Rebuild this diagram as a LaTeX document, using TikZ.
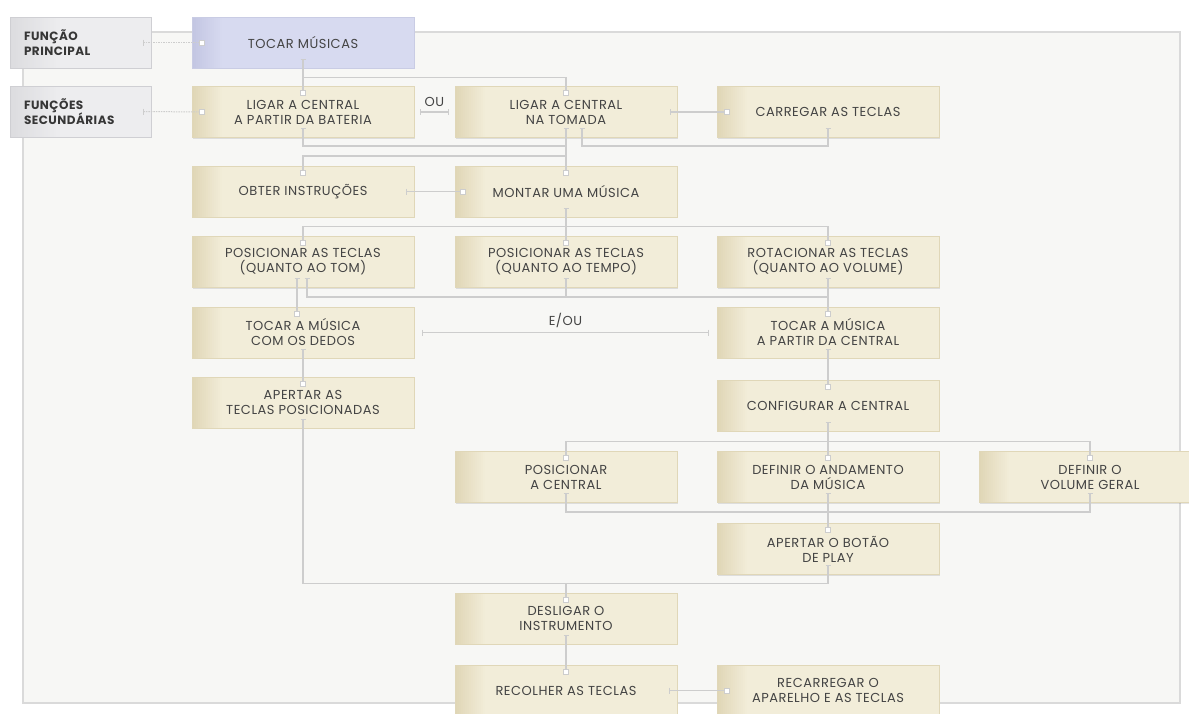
\documentclass[tikz,border=0pt]{standalone}
\usepackage{fontspec}
\setmainfont{Poppins}
\usetikzlibrary{calc,shadows}
\definecolor{cream}{HTML}{F2EDD9}
\definecolor{creamdk}{HTML}{E0D6B6}
\definecolor{creamln}{HTML}{E0D7B8}
\definecolor{lav}{HTML}{D7DAF0}
\definecolor{lavdk}{HTML}{C3C6E2}
\definecolor{lavln}{HTML}{C9CCE4}
\definecolor{gry}{HTML}{EDEDEF}
\definecolor{grydk}{HTML}{DCDCDF}
\definecolor{gryln}{HTML}{CFCFD3}
\definecolor{panel}{HTML}{F7F7F5}
\definecolor{panelln}{HTML}{DADADA}
\definecolor{lineg}{HTML}{CDCDCD}
\definecolor{txt}{HTML}{444444}
\definecolor{txtdk}{HTML}{363636}
\newcommand\OutTick[2][0pt]{\draw[tickln] ([xshift=#1-2.5pt,yshift=9pt]#2.south) -- ([xshift=#1+2.5pt,yshift=9pt]#2.south);}
\newcommand\InSq[2][0pt]{\node[port] at ([xshift=#1,yshift=-7pt]#2.north) {};}
\newcommand\VTick[1]{\draw[tickln] ([yshift=3pt]#1) -- ([yshift=-3pt]#1);}
\newcommand\LeftGrad[3]{\foreach \i in {0,...,#3}{\pgfmathtruncatemacro\pp{100-\i*100/(#3+1)}\fill[#1!\pp!#2] ([xshift=\i*2pt]path picture bounding box.south west) rectangle ([xshift=\i*2pt+2.4pt]path picture bounding box.north west);}}
\tikzset{
  x=1pt, y=-1pt,
  box/.style={minimum width=222pt, minimum height=51pt, inner sep=0pt, align=center,
    font=\fontsize{13}{15}\selectfont\addfontfeature{LetterSpace=4}, text=txt, draw=creamln, line width=0.8pt, fill=cream,
    drop shadow={shadow xshift=1pt, shadow yshift=-1.2pt, opacity=0.10, fill=black},
    path picture={\LeftGrad{creamdk}{cream}{14}}},
  mainbox/.style={box, fill=lav, draw=lavln, path picture={\LeftGrad{lavdk}{lav}{14}}},
  sidebox/.style={minimum height=51pt, inner xsep=14pt, inner ysep=0pt, text width=113pt, align=left,
    font=\bfseries\fontsize{12}{15.5}\selectfont\addfontfeature{LetterSpace=4}, text=txtdk, draw=gryln, line width=0.8pt, fill=gry,
    drop shadow={shadow xshift=1pt, shadow yshift=-1.2pt, opacity=0.10, fill=black},
    path picture={\LeftGrad{grydk}{gry}{24}}},
  conn/.style={draw=lineg, line width=1.2pt},
  dotconn/.style={draw=lineg, line width=1pt, dash pattern=on 1.5pt off 1pt},
  tickln/.style={draw=lineg, line width=1pt},
  port/.style={draw=lineg, fill=white, line width=0.8pt, minimum size=5pt, inner sep=0pt},
  lbl/.style={font=\fontsize{13}{15}\selectfont\addfontfeature{LetterSpace=4}, text=txt}
}
\begin{document}
\begin{tikzpicture}
\useasboundingbox (0,0) rectangle (1189,713);
\fill[white] (0,0) rectangle (1189,713);
\draw[fill=panel, draw=panelln, line width=1.2pt] (23,32) rectangle (1180,703);

% nodes
\node[sidebox] (fp) at (80.5,42.5) {FUNÇÃO\\PRINCIPAL};
\node[sidebox] (fs) at (80.5,111.5) {FUNÇÕES\\SECUNDÁRIAS};
\node[mainbox] (tocar) at (303,42.5) {TOCAR MÚSICAS};
\node[box] (bat) at (303,112) {LIGAR A CENTRAL\\A PARTIR DA BATERIA};
\node[box] (tom) at (566,112) {LIGAR A CENTRAL\\NA TOMADA};
\node[box] (carr) at (828,112) {CARREGAR AS TECLAS};
\node[box] (obt) at (303,191.5) {OBTER INSTRUÇÕES};
\node[box] (mont) at (566,191.5) {MONTAR UMA MÚSICA};
\node[box] (ptom) at (303,262) {POSICIONAR AS TECLAS\\(QUANTO AO TOM)};
\node[box] (ptempo) at (566,262) {POSICIONAR AS TECLAS\\(QUANTO AO TEMPO)};
\node[box] (pvol) at (828,262) {ROTACIONAR AS TECLAS\\(QUANTO AO VOLUME)};
\node[box] (dedos) at (303,332.5) {TOCAR A MÚSICA\\COM OS DEDOS};
\node[box] (pcentral) at (828,332.5) {TOCAR A MÚSICA\\A PARTIR DA CENTRAL};
\node[box] (apert) at (303,402.5) {APERTAR AS\\TECLAS POSICIONADAS};
\node[box] (config) at (828,405.5) {CONFIGURAR A CENTRAL};
\node[box] (poscen) at (566,477) {POSICIONAR\\A CENTRAL};
\node[box] (andam) at (828,477) {DEFINIR O ANDAMENTO\\DA MÚSICA};
\node[box] (volger) at (1090,477) {DEFINIR O\\VOLUME GERAL};
\node[box] (botao) at (828,549) {APERTAR O BOTÃO\\DE PLAY};
\node[box] (desl) at (566,618.5) {DESLIGAR O\\INSTRUMENTO};
\node[box] (recol) at (566,690.5) {RECOLHER AS TECLAS};
\node[box] (recarr) at (828,690.5) {RECARREGAR O\\APARELHO E AS TECLAS};

% side ports
\coordinate (fp-r) at ([xshift=-8pt]fp.east);
\coordinate (fs-r) at ([xshift=-8pt]fs.east);
\coordinate (tocar-l) at ([xshift=10pt]tocar.west);
\coordinate (bat-l) at ([xshift=10pt]bat.west);
\coordinate (ou-a) at ([xshift=6pt]bat.east);
\coordinate (ou-b) at ([xshift=-6pt]tom.west);
\coordinate (tom-r) at ([xshift=-7pt]tom.east);
\coordinate (carr-l) at ([xshift=10pt]carr.west);
\coordinate (obt-r) at ([xshift=-8pt]obt.east);
\coordinate (mont-l) at ([xshift=8pt]mont.west);
\coordinate (eou-a) at ([xshift=8pt]dedos.east);
\coordinate (eou-b) at ([xshift=-8pt]pcentral.west);
\coordinate (recol-r) at ([xshift=-8pt]recol.east);
\coordinate (recarr-l) at ([xshift=10pt]recarr.west);

% connectors
\draw[dotconn] (fp-r) -- (tocar-l);
\draw[dotconn] (fs-r) -- (bat-l);
\draw[conn] ([yshift=9pt]tocar.south) -- ([yshift=-7pt]bat.north);
\draw[conn] ([yshift=9pt]tocar.south) -- ++(0,18) -| ([yshift=-7pt]tom.north);
\draw[conn] (ou-a) -- node[lbl, above=1pt] {OU} (ou-b);
\draw[conn] (tom-r) -- (carr-l);
\draw[conn] ([yshift=9pt]carr.south) -- ++(0,17) -| ([xshift=16pt,yshift=9pt]tom.south);
\draw[conn] ([yshift=9pt]bat.south) -- ++(0,17) -| ([yshift=9pt]tom.south);
\draw[conn] ([yshift=9pt]tom.south) -- ([yshift=-7pt]mont.north);
\draw[conn] ([yshift=9pt]tom.south) -- ++(0,27) -| ([yshift=-7pt]obt.north);
\draw[conn] (obt-r) -- (mont-l);
\draw[conn] ([yshift=9pt]mont.south) -- ++(0,18) -| ([yshift=-7pt]ptom.north);
\draw[conn] ([yshift=9pt]mont.south) -- ++(0,18) -| ([yshift=-7pt]pvol.north);
\draw[conn] ([yshift=9pt]mont.south) -- ([yshift=-7pt]ptempo.north);
\draw[conn] ([xshift=-6pt,yshift=9pt]ptom.south) -- ([xshift=-6pt,yshift=-7pt]dedos.north);
\draw[conn] ([xshift=4pt,yshift=9pt]ptom.south) -- ++(0,18) -| ([yshift=9pt]pvol.south);
\draw[conn] ([yshift=9pt]ptempo.south) -- ++(0,18);
\draw[conn] ([yshift=9pt]pvol.south) -- ([yshift=-7pt]pcentral.north);
\draw[conn] (eou-a) -- node[lbl, above=1pt] {E/OU} (eou-b);
\draw[conn] ([yshift=9pt]dedos.south) -- ([yshift=-7pt]apert.north);
\draw[conn] ([yshift=9pt]apert.south) |- ([yshift=9pt]desl.north) -| ([yshift=9pt]botao.south);
\draw[conn] ([yshift=9pt]desl.north) -- ([yshift=-7pt]desl.north);
\draw[conn] ([yshift=9pt]pcentral.south) -- ([yshift=-7pt]config.north);
\draw[conn] ([yshift=9pt]config.south) -- ++(0,19) -| ([yshift=-7pt]poscen.north);
\draw[conn] ([yshift=9pt]config.south) -- ++(0,19) -| ([yshift=-7pt]volger.north);
\draw[conn] ([yshift=9pt]config.south) -- ([yshift=-7pt]andam.north);
\draw[conn] ([yshift=9pt]poscen.south) -- ++(0,18) -| ([yshift=9pt]volger.south);
\draw[conn] ([yshift=9pt]andam.south) -- ([yshift=-7pt]botao.north);
\draw[conn] ([yshift=9pt]desl.south) -- ([yshift=-7pt]recol.north);
\draw[conn] (recol-r) -- (recarr-l);

% ticks
\VTick{fp-r} \VTick{fs-r} \VTick{ou-a} \VTick{ou-b} \VTick{tom-r} \VTick{obt-r}
\VTick{eou-a} \VTick{eou-b} \VTick{recol-r}
\OutTick{tocar} \OutTick{bat} \OutTick{tom} \OutTick[16pt]{tom} \OutTick{carr}
\OutTick{mont} \OutTick[-6pt]{ptom} \OutTick[4pt]{ptom} \OutTick{ptempo} \OutTick{pvol}
\OutTick{dedos} \OutTick{pcentral} \OutTick{apert} \OutTick{config}
\OutTick{poscen} \OutTick{andam} \OutTick{volger} \OutTick{botao} \OutTick{desl}

% ports
\node[port] at (tocar-l) {}; \node[port] at (bat-l) {}; \node[port] at (carr-l) {};
\node[port] at (mont-l) {}; \node[port] at (recarr-l) {};
\InSq{bat} \InSq{tom} \InSq{obt} \InSq{mont} \InSq{ptom} \InSq{ptempo} \InSq{pvol}
\InSq[-6pt]{dedos} \InSq{pcentral} \InSq{apert} \InSq{config} \InSq{poscen}
\InSq{andam} \InSq{volger} \InSq{botao} \InSq{desl} \InSq{recol}
\end{tikzpicture}
\end{document}
